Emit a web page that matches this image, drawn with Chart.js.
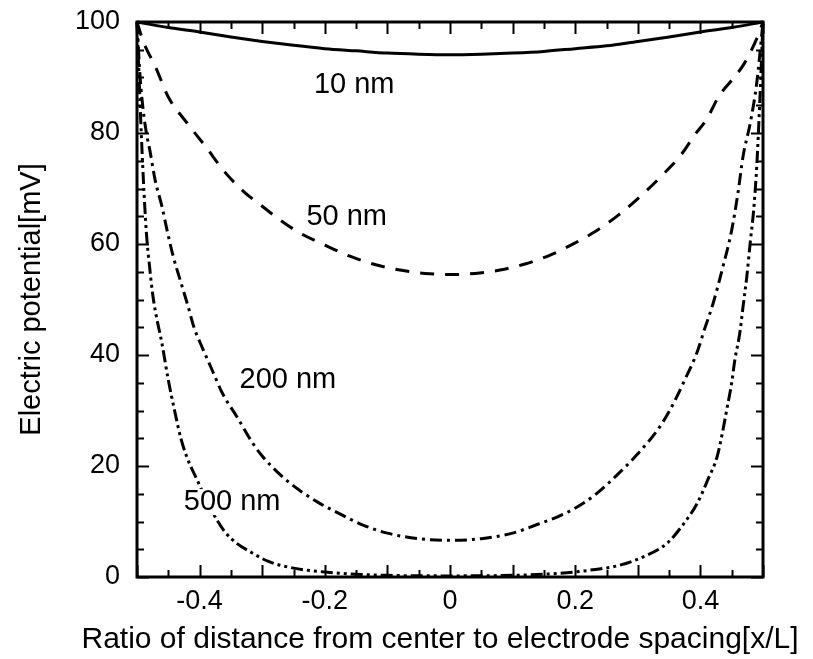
<!DOCTYPE html>
<html>
<head>
<meta charset="utf-8">
<script src="https://cdn.jsdelivr.net/npm/chart.js@4.4.0/dist/chart.umd.min.js"></script>
<style>
  html, body { margin: 0; padding: 0; background: #fff; }
  #wrap { width: 813px; height: 659px; position: relative; }
</style>
</head>
<body>
<div id="wrap"><canvas id="c" width="813" height="659"></canvas></div>
<script>
// ---- data ----
const xTickLabels = [-0.4, -0.2, 0, 0.2, 0.4];
const yTickLabels = [0, 20, 40, 60, 80, 100];
const xTitle = 'Ratio of distance from center to electrode spacing[x/L]';
const yTitle = 'Electric potential[mV]';

const x10 = [-0.5,-0.45,-0.4,-0.35,-0.3,-0.25,-0.2,-0.15,-0.1,-0.05,0,0.05,0.1,0.15,0.2,0.25,0.3,0.35,0.4,0.45,0.5];
const v10 = [100,99.0,98.2,97.3,96.5,95.8,95.2,94.8,94.4,94.2,94.1,94.2,94.4,94.7,95.2,95.7,96.5,97.3,98.2,99.0,100];

const x50 = [-0.5,-0.49,-0.47,-0.45,-0.42,-0.39,-0.36,-0.33,-0.3,-0.27,-0.24,-0.2,-0.16,-0.12,-0.08,-0.04,0,
             0.04,0.08,0.12,0.16,0.2,0.23,0.27,0.31,0.34,0.37,0.39,0.41,0.43,0.45,0.47,0.49,0.5];
const v50 = [100,96.5,91.8,86.5,81.8,77.5,73.0,69.5,66.8,64.2,62.0,59.8,57.8,56.3,55.3,54.7,54.5,
             54.7,55.3,56.4,58.0,60.2,62.1,65.3,69.2,72.5,76.2,79.5,82.5,86.7,89.5,92.5,97.0,100];

const x200 = [-0.5,-0.495,-0.49,-0.485,-0.479,-0.471,-0.46,-0.452,-0.442,-0.431,-0.419,-0.409,-0.396,-0.38,-0.364,-0.34,-0.315,-0.3,-0.27,-0.24,-0.21,-0.18,-0.14,-0.1,-0.05,0,
              0.05,0.1,0.14,0.171,0.203,0.235,0.267,0.3,0.331,0.351,0.375,0.395,0.407,0.42,0.436,0.45,0.46,0.468,0.48,0.49,0.5];
const v200 = [100,90,84,80,76.6,71.5,66.7,62.5,57.7,53.5,49.0,45.0,41.4,37.3,33.2,28.8,24.1,21.8,18.3,15.6,13.4,11.6,9.4,7.9,6.9,6.6,
              6.9,7.9,9.5,10.8,12.6,15.1,18.4,22.2,26.4,30.0,35.5,40.6,44.8,49.2,55.9,62.5,69.2,75.7,82,89,100];

const x500 = [-0.5,-0.495,-0.49,-0.485,-0.48,-0.475,-0.47,-0.46,-0.45,-0.44,-0.43,-0.42,-0.404,-0.38,-0.36,-0.34,-0.32,-0.29,-0.25,-0.2,-0.15,-0.1,0,
              0.1,0.15,0.2,0.228,0.267,0.308,0.347,0.372,0.395,0.411,0.427,0.435,0.442,0.45,0.455,0.463,0.468,0.474,0.48,0.485,0.49,0.495,0.5];
const v500 = [100,85,72,62,56,51,47.5,42,35.5,30,25,21.5,17.5,11.8,8.2,6.0,4.6,2.8,1.6,0.9,0.5,0.3,0.2,
              0.3,0.5,0.9,1.3,2.0,3.6,6.1,9.4,13.3,17.3,21.8,25.9,30.1,35.0,39.1,44.0,48.6,54,60.7,66,74,86,100];

const seriesNames = ['10 nm', '50 nm', '200 nm', '500 nm'];
// label anchors (data coordinates)
const labelX = [-0.153, -0.165, -0.259, -0.348];
const labelY = [88.6, 64.9, 35.5, 13.5];

const FONT = '"Liberation Sans", Arial, Helvetica, sans-serif';
const pts = (xs, ys) => xs.map((x, i) => ({x: x, y: ys[i]}));

const frameAndTicks = {
  id: 'frameAndTicks',
  afterDatasetsDraw(chart) {
    const {ctx, chartArea: a, scales: {x, y}} = chart;
    ctx.save();
    ctx.strokeStyle = '#000';
    ctx.lineWidth = 2;
    ctx.beginPath();
    for (let i = -10; i <= 10; i++) {
      const v = i * 0.05;
      const px = Math.round(x.getPixelForValue(v)) + 0.5;
      const len = (i % 2 === 0) ? 12 : 7;
      ctx.moveTo(px, a.bottom); ctx.lineTo(px, a.bottom - len);
      ctx.moveTo(px, a.top); ctx.lineTo(px, a.top + len);
    }
    for (let i = 0; i <= 20; i++) {
      const v = i * 5;
      const py = Math.round(y.getPixelForValue(v)) + 0.5;
      const len = (i % 4 === 0) ? 12 : 7;
      ctx.moveTo(a.left, py); ctx.lineTo(a.left + len, py);
      ctx.moveTo(a.right, py); ctx.lineTo(a.right - len, py);
    }
    ctx.stroke();
    ctx.lineWidth = 3;
    ctx.strokeRect(a.left, a.top, a.right - a.left, a.bottom - a.top);

    // curve labels on a white patch
    ctx.font = '29px ' + FONT;
    ctx.textAlign = 'center';
    ctx.textBaseline = 'middle';
    seriesNames.forEach((t, i) => {
      const cx = x.getPixelForValue(labelX[i]);
      const cy = y.getPixelForValue(labelY[i]);
      const w = ctx.measureText(t).width;
      ctx.fillStyle = '#fff';
      ctx.fillRect(cx - w / 2 - 3, cy - 13, w + 6, 26);
      ctx.fillStyle = '#000';
      ctx.fillText(t, cx, cy);
    });

    // x-axis title (wider than the plot, so drawn here without width limit)
    ctx.font = '30px ' + FONT;
    ctx.fillStyle = '#000';
    ctx.fillText(xTitle, 440, 640);
    ctx.restore();
  }
};

const common = {pointRadius: 0, borderColor: '#000', borderWidth: 3, fill: false,
                cubicInterpolationMode: 'monotone', clip: 4};

new Chart(document.getElementById('c'), {
  type: 'line',
  data: {
    datasets: [
      Object.assign({label: seriesNames[0], data: pts(x10, v10), borderDash: []}, common),
      Object.assign({label: seriesNames[1], data: pts(x50, v50), borderDash: [14, 11]}, common),
      Object.assign({label: seriesNames[2], data: pts(x200, v200), borderDash: [12, 5, 3, 5]}, common),
      Object.assign({label: seriesNames[3], data: pts(x500, v500), borderDash: [12, 4, 3, 4, 3, 4]}, common)
    ]
  },
  options: {
    responsive: false,
    animation: false,
    layout: {padding: {left: 0, right: 50, top: 22, bottom: 0}},
    plugins: {legend: {display: false}, tooltip: {enabled: false}},
    scales: {
      x: {
        type: 'linear', min: -0.5, max: 0.5,
        grid: {display: false, drawTicks: false},
        border: {display: false},
        afterBuildTicks: s => { s.ticks = xTickLabels.map(v => ({value: v})); },
        afterFit: s => { s.height = 82; s.paddingLeft = 0; s.paddingRight = 0; },
        ticks: {color: '#000', padding: 8, maxRotation: 0, autoSkip: false,
                font: {family: FONT, size: 27},
                callback: v => String(v)},
        title: {display: false}
      },
      y: {
        type: 'linear', min: 0, max: 100,
        grid: {display: false, drawTicks: false},
        border: {display: false},
        afterBuildTicks: s => { s.ticks = yTickLabels.map(v => ({value: v})); },
        afterFit: s => { s.width = 137; s.paddingTop = 0; s.paddingBottom = 0; },
        ticks: {color: '#000', padding: 17, autoSkip: false,
                font: {family: FONT, size: 27}},
        title: {display: true, text: yTitle,
                color: '#000', font: {family: FONT, size: 29}, padding: {top: 15, bottom: 15}}
      }
    }
  },
  plugins: [frameAndTicks]
});
</script>
</body>
</html>
